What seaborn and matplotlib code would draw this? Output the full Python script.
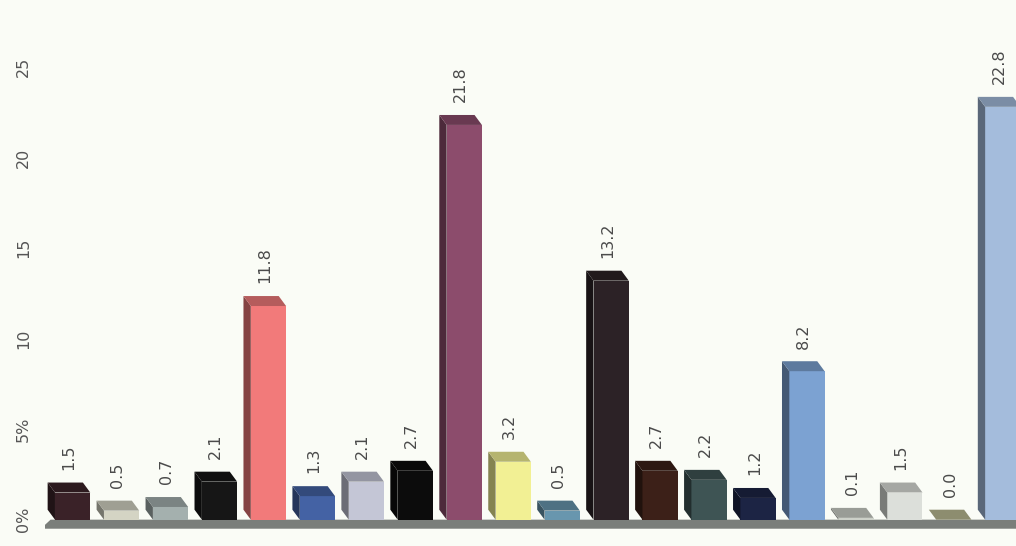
import matplotlib
matplotlib.use("Agg")
import matplotlib.pyplot as plt
import seaborn as sns
import pandas as pd
import numpy as np
from matplotlib.patches import Polygon
from matplotlib.colors import to_rgb

categories = [f"c{i+1}" for i in range(20)]
values = [1.5, 0.5, 0.7, 2.1, 11.8, 1.3, 2.1, 2.7, 21.8, 3.2, 0.5, 13.2, 2.7, 2.2, 1.2, 8.2, 0.1, 1.5, 0.0, 22.8]
labels = ["1.5", "0.5", "0.7", "2.1", "11.8", "1.3", "2.1", "2.7", "21.8", "3.2", "0.5", "13.2", "2.7", "2.2", "1.2", "8.2", "0.1", "1.5", "0.0", "22.8"]
colors = ["#3a2228", "#d4d4c4", "#a4b0ae", "#161616", "#f27a7a", "#4462a4", "#c4c6d6", "#0c0c0c",
          "#8c4c6c", "#f2f094", "#6896ae", "#2c2226", "#3c2018", "#3e5454", "#1c2444", "#7ca2d2",
          "#ccd0c8", "#dcdfda", "#bcbc94", "#a4bcdc"]
yticks = [0, 5, 10, 15, 20, 25]
ytick_labels = ["0%", "5%", "10", "15", "20", "25"]

df = pd.DataFrame({"cat": categories, "val": values})

sns.set_theme(style="white")
bg = "#fafcf6"
fig = plt.figure(figsize=(10.16, 5.46), dpi=100, facecolor=bg)
ax = fig.add_axes([0.044, 0.03, 0.956, 0.97])
ax.set_facecolor(bg)

sns.barplot(data=df, x="cat", y="val", hue="cat", palette=colors, legend=False,
            width=0.72, ax=ax, saturation=1, zorder=3, edgecolor="none", linewidth=0)

ax.set_xlim(-0.57, 19.27)
ax.set_ylim(-0.55, 28.7)

dx, dy = 0.15, 0.55
# base slab
slab = Polygon([(-0.65, -0.5), (-0.45, 0.0), (19.6, 0.0), (19.6, -0.5)],
               closed=True, facecolor="#7a7e7a", edgecolor="none", zorder=2)
ax.add_patch(slab)

def darker(c, f):
    r, g, b = to_rgb(c)
    return (r * f, g * f, b * f)

for bar, col, lab in zip(ax.patches, colors, labels):
    x0 = bar.get_x()
    w = bar.get_width()
    h = bar.get_height()
    x1 = x0 + w
    side = Polygon([(x0, 0), (x0 - dx, dy), (x0 - dx, h + dy), (x0, h)], closed=True,
                   facecolor=darker(col, 0.55), edgecolor="none", zorder=3)
    top = Polygon([(x0, h), (x0 - dx, h + dy), (x1 - dx, h + dy), (x1, h)], closed=True,
                  facecolor=darker(col, 0.75), edgecolor="none", zorder=3)
    ax.add_patch(side)
    ax.add_patch(top)
    ax.text(x0 + w / 2 - dx / 2, h + dy + 0.7, lab, rotation=90, ha="center", va="bottom",
            fontsize=11.5, color="#4a4a4a", zorder=4)

ax.set_yticks(yticks)
ax.set_yticklabels(ytick_labels, rotation=90, va="center", fontsize=11.5, color="#555555")
ax.tick_params(axis="y", length=0, pad=10)
ax.set_xticks([])
ax.set_xlabel("")
ax.set_ylabel("")
for s in ax.spines.values():
    s.set_visible(False)

fig.savefig("out.png", dpi=100, facecolor=bg)
